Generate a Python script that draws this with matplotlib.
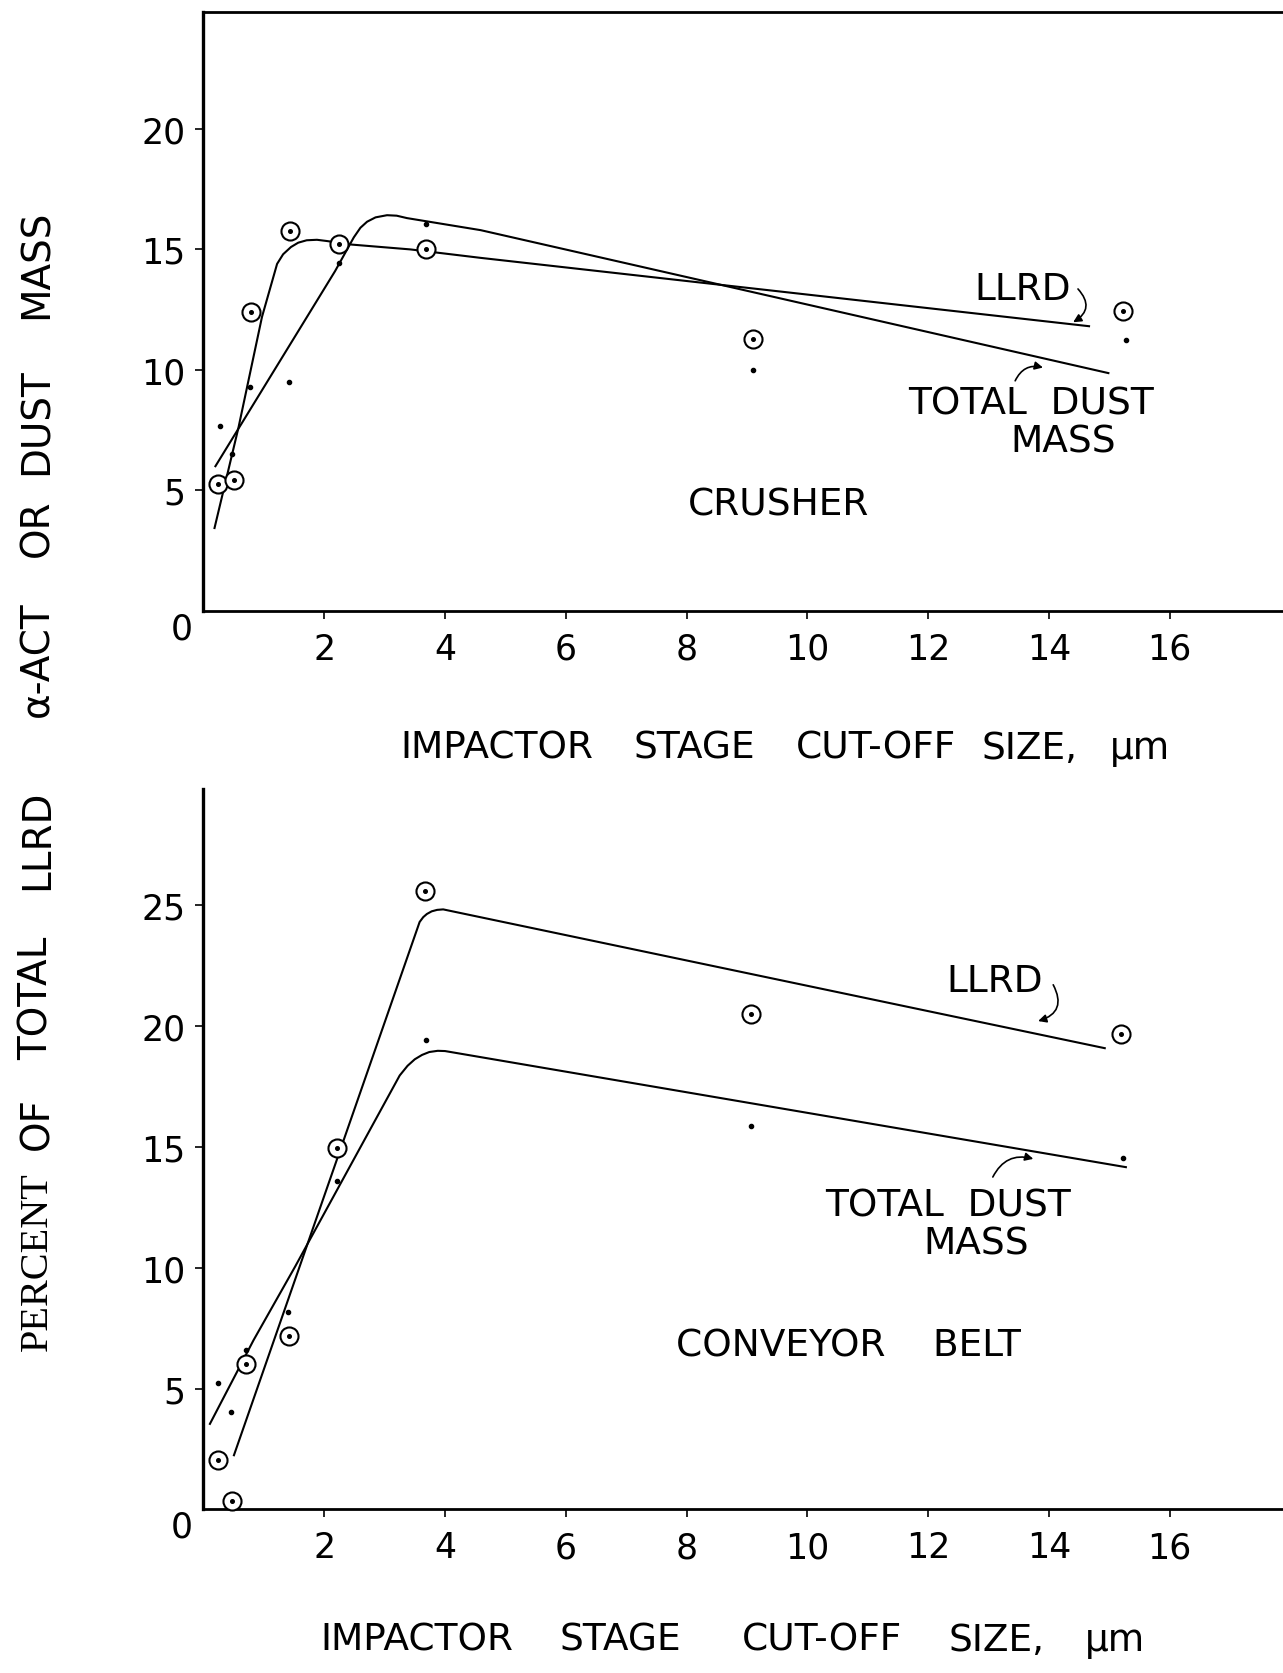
import matplotlib
matplotlib.use("Agg")
import matplotlib.pyplot as plt

# ---------------- data ----------------
# Crusher panel
crusher_llrd_x = [0.25, 0.50, 0.79, 1.43, 2.24, 3.68, 9.10, 15.22]
crusher_llrd_y = [5.25, 5.44, 12.39, 15.76, 15.21, 15.03, 11.28, 12.46]
crusher_dust_x = [0.27, 0.47, 0.77, 1.41, 2.24, 3.69, 9.10, 15.27]
crusher_dust_y = [7.68, 6.53, 9.28, 9.51, 14.44, 16.07, 10.00, 11.26]
crusher_llrd_curve_x = [0.18, 0.58, 0.97, 1.22, 1.32, 1.45, 1.57, 1.71, 1.88, 2.04, 2.46,
                        3.43, 4.59, 14.68]
crusher_llrd_curve_y = [3.4, 7.6, 12.2, 14.4, 14.8, 15.1, 15.28, 15.38, 15.4, 15.35, 15.2,
                        15.0, 14.65, 11.81]
crusher_dust_curve_x = [0.19, 2.18, 2.49, 2.6, 2.71, 2.85, 3.04, 3.2, 3.37, 4.59, 15.0]
crusher_dust_curve_y = [5.97, 14.1, 15.5, 15.9, 16.15, 16.33, 16.42, 16.4, 16.3, 15.8, 9.86]

# Conveyor belt panel
belt_llrd_x = [0.25, 0.48, 0.71, 1.42, 2.22, 3.67, 9.06, 15.19]
belt_llrd_y = [2.05, 0.35, 6.03, 7.17, 14.95, 25.6, 20.5, 19.67]
belt_dust_x = [0.25, 0.46, 0.71, 1.40, 2.21, 3.69, 9.06, 15.22]
belt_dust_y = [5.24, 4.02, 6.6, 8.18, 13.6, 19.4, 15.85, 14.52]
belt_llrd_curve_x = [0.5, 3.58, 3.64, 3.7, 3.78, 3.87, 3.97, 14.94]
belt_llrd_curve_y = [2.2, 24.3, 24.5, 24.63, 24.74, 24.8, 24.82, 19.07]
belt_dust_curve_x = [0.1, 0.83, 1.52, 3.25, 3.38, 3.5, 3.62, 3.74, 3.88, 4.0, 15.29]
belt_dust_curve_y = [3.5, 7.0, 10.05, 17.95, 18.35, 18.62, 18.8, 18.92, 18.97, 18.96, 14.15]

x_ticks = [2, 4, 6, 8, 10, 12, 14, 16]
crusher_y_ticks = [5, 10, 15, 20]
belt_y_ticks = [5, 10, 15, 20, 25]

# axis-title words and their pixel centres in the original
xlabel_words = ["IMPACTOR", "STAGE", "CUT-OFF", "SIZE,", "μm"]
xlabel_top_centres = [497, 694, 876, 1029, 1140]
xlabel_bottom_centres = [417, 620, 822, 996, 1115]
ylabel_words = ["MASS", "DUST", "OR", "α-ACT", "LLRD", "TOTAL", "OF"]
ylabel_centres = [264, 422, 528, 659, 840, 998, 1123]

SANS = "DejaVu Sans"
W, H = 1283, 1674
fig = plt.figure(figsize=(W / 100, H / 100), dpi=100)
fig.patch.set_facecolor("white")

x0_px = 203.4
x_right = (W - x0_px) / 60.4

ax1 = fig.add_axes([x0_px / W, 1 - 612 / H, 1 - x0_px / W, (612 - 13) / H])
ax2 = fig.add_axes([x0_px / W, 1 - 1510.4 / H, 1 - x0_px / W, (1510.4 - 790) / H])

LW = 1.5
for ax, ylim_top, yt in [(ax1, 24.85, crusher_y_ticks), (ax2, 29.8, belt_y_ticks)]:
    ax.set_xlim(0, x_right)
    ax.set_ylim(0, ylim_top)
    ax.set_xticks(x_ticks)
    ax.set_xticklabels([str(t) for t in x_ticks], fontsize=25, family=SANS)
    ax.set_yticks(yt)
    ax.set_yticklabels([str(t) for t in yt], fontsize=25, family=SANS)
    ax.tick_params(axis="x", direction="out", length=6, width=1.2, pad=9)
    ax.tick_params(axis="y", direction="out", length=6, width=1.2, pad=7)
    ax.spines["right"].set_visible(False)
    ax.spines["left"].set_linewidth(2.4)
    ax.spines["bottom"].set_linewidth(2.0)
    ax.text(-0.36, 0, "0", fontsize=25, family=SANS, ha="center", va="top")

ax1.spines["top"].set_linewidth(2.0)
ax2.spines["top"].set_visible(False)


def draw(ax, cx, cy, dx, dy, lx, ly, tx, ty):
    ax.plot(lx, ly, color="black", lw=LW, solid_capstyle="butt",
            solid_joinstyle="round", zorder=2)
    ax.plot(tx, ty, color="black", lw=LW, solid_capstyle="butt",
            solid_joinstyle="round", zorder=2)
    ax.plot(cx, cy, linestyle="none", marker="o", ms=13, mfc="white", mec="black",
            mew=1.5, zorder=3, clip_on=False)
    ax.plot(cx, cy, linestyle="none", marker="o", ms=2.6, color="black", zorder=4,
            clip_on=False)
    ax.plot(dx, dy, linestyle="none", marker="o", ms=3, color="black", zorder=4)


draw(ax1, crusher_llrd_x, crusher_llrd_y, crusher_dust_x, crusher_dust_y,
     crusher_llrd_curve_x, crusher_llrd_curve_y, crusher_dust_curve_x, crusher_dust_curve_y)
draw(ax2, belt_llrd_x, belt_llrd_y, belt_dust_x, belt_dust_y,
     belt_llrd_curve_x, belt_llrd_curve_y, belt_dust_curve_x, belt_dust_curve_y)

lab = dict(fontsize=27, family=SANS, color="black")
arrow_kw = dict(arrowstyle="-|>", lw=1.2, color="black", mutation_scale=12,
                shrinkA=0, shrinkB=0)
# Crusher labels
ax1.text(13.57, 13.36, "LLRD", ha="center", va="center", **lab)
ax1.text(13.71, 8.59, "TOTAL  DUST", ha="center", va="center", **lab)
ax1.text(14.23, 7.03, "MASS", ha="center", va="center", **lab)
ax1.text(9.53, 4.4, "CRUSHER", ha="center", va="center", **lab)
ax1.annotate("", xy=(14.40, 11.98), xytext=(14.48, 13.36),
             arrowprops=dict(connectionstyle="arc3,rad=-0.6", **arrow_kw))
ax1.annotate("", xy=(13.9, 10.1), xytext=(13.44, 9.55),
             arrowprops=dict(connectionstyle="arc3,rad=-0.4", **arrow_kw))

# Conveyor belt labels
ax2.text(13.1, 21.87, "LLRD", ha="center", va="center", **lab)
ax2.text(12.33, 12.57, "TOTAL  DUST", ha="center", va="center", **lab)
ax2.text(12.8, 10.98, "MASS", ha="center", va="center", **lab)
ax2.text(10.68, 6.76, "CONVEYOR    BELT", ha="center", va="center", **lab)
ax2.annotate("", xy=(13.82, 20.2), xytext=(14.07, 21.7),
             arrowprops=dict(connectionstyle="arc3,rad=-0.6", **arrow_kw))
ax2.annotate("", xy=(13.74, 14.5), xytext=(13.07, 13.75),
             arrowprops=dict(connectionstyle="arc3,rad=-0.4", **arrow_kw))

# x-axis titles
for word, cx in zip(xlabel_words, xlabel_top_centres):
    fig.text(cx / W, 1 - 749 / H, word, ha="center", va="center", fontsize=27, family=SANS)
for word, cx in zip(xlabel_words, xlabel_bottom_centres):
    fig.text(cx / W, 1 - 1641 / H, word, ha="center", va="center", fontsize=27, family=SANS)

# y-axis title (two type faces, as in the original)
fig.text(37 / W, 1 - 1262 / H, "PERCENT", rotation=90, ha="center", va="center",
         fontsize=29, family="Liberation Serif")
for word, cy in zip(ylabel_words, ylabel_centres):
    fig.text(37 / W, 1 - cy / H, word, rotation=90, ha="center", va="center",
             fontsize=28, family=SANS)

fig.savefig("out.png", dpi=100, facecolor="white")
